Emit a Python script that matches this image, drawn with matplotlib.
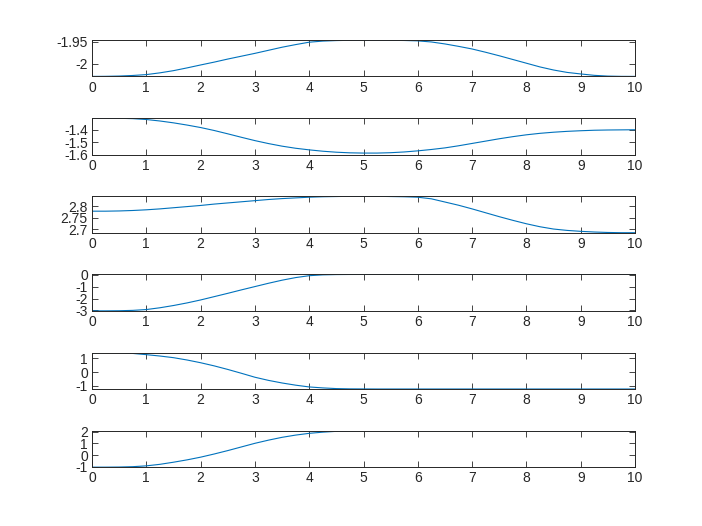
import matplotlib
matplotlib.use("Agg")
import matplotlib.pyplot as plt

plt.rcParams['font.family'] = ['Liberation Sans', 'DejaVu Sans']

t = [0, 0.25, 0.5, 0.75, 1, 1.25, 1.5, 1.75, 2, 2.25, 2.5, 2.75, 3, 3.25, 3.5, 3.75,
     4, 4.25, 4.5, 4.75, 5, 5.25, 5.5, 5.75, 6, 6.25, 6.5, 6.75, 7, 7.25, 7.5, 7.75,
     8, 8.25, 8.5, 8.75, 9, 9.25, 9.5, 9.75, 10]

q1 = [-2.0286, -2.0284, -2.0278, -2.0265, -2.0245, -2.0205, -2.0155, -2.0092, -2.0025, -1.9960,
      -1.9890, -1.9825, -1.9760, -1.9690, -1.9620, -1.9560, -1.9505, -1.9480, -1.9468, -1.9462,
      -1.9460, -1.9460, -1.9462, -1.9466, -1.9475, -1.9500, -1.9545, -1.9600, -1.9660, -1.9735,
      -1.9815, -1.9900, -1.9985, -2.0070, -2.0140, -2.0195, -2.0230, -2.0262, -2.0279, -2.0285,
      -2.0286]
q2 = [-1.305, -1.305, -1.306, -1.309, -1.316, -1.328, -1.343, -1.361, -1.381, -1.405,
      -1.432, -1.460, -1.487, -1.511, -1.532, -1.549, -1.562, -1.573, -1.581, -1.586,
      -1.588, -1.588, -1.585, -1.579, -1.570, -1.559, -1.546, -1.529, -1.510, -1.491,
      -1.472, -1.455, -1.440, -1.428, -1.419, -1.412, -1.407, -1.403, -1.401, -1.400,
      -1.399]
q3 = [2.778, 2.778, 2.779, 2.781, 2.784, 2.788, 2.793, 2.798, 2.803, 2.809,
      2.814, 2.819, 2.824, 2.829, 2.833, 2.836, 2.839, 2.841, 2.842, 2.843,
      2.843, 2.843, 2.842, 2.841, 2.839, 2.832, 2.818, 2.804, 2.788, 2.771,
      2.754, 2.738, 2.723, 2.710, 2.700, 2.694, 2.690, 2.687, 2.685, 2.684,
      2.684]
q4 = [-3.04, -3.04, -3.03, -3.00, -2.93, -2.78, -2.59, -2.37, -2.12, -1.84,
      -1.56, -1.27, -0.99, -0.71, -0.45, -0.23, -0.07, 0.0, 0.025, 0.033,
      0.035, 0.035, 0.035, 0.035, 0.035, 0.035, 0.035, 0.035, 0.035, 0.035,
      0.035, 0.035, 0.035, 0.035, 0.035, 0.035, 0.035, 0.035, 0.035, 0.035,
      0.035]
q5 = [1.42, 1.42, 1.41, 1.36, 1.27, 1.17, 1.05, 0.88, 0.68, 0.45,
      0.19, -0.09, -0.38, -0.61, -0.80, -0.96, -1.09, -1.16, -1.21, -1.23,
      -1.235, -1.24, -1.24, -1.24, -1.24, -1.24, -1.24, -1.24, -1.24, -1.24,
      -1.24, -1.24, -1.24, -1.24, -1.24, -1.24, -1.24, -1.24, -1.24, -1.24,
      -1.24]
q6 = [-1.02, -1.02, -1.01, -0.98, -0.91, -0.78, -0.60, -0.40, -0.17, 0.10,
      0.39, 0.70, 1.01, 1.28, 1.52, 1.71, 1.86, 1.96, 2.03, 2.06,
      2.075, 2.08, 2.08, 2.08, 2.08, 2.08, 2.08, 2.08, 2.08, 2.08,
      2.08, 2.08, 2.08, 2.08, 2.08, 2.08, 2.08, 2.08, 2.08, 2.08,
      2.08]

series = [q1, q2, q3, q4, q5, q6]
ylims = [(-2.0286, -1.9455), (-1.6, -1.305), (2.684, 2.843),
         (-3.04, 0.035), (-1.24, 1.42), (-1.02, 2.08)]
yticks = [[-2, -1.95], [-1.6, -1.5, -1.4], [2.7, 2.75, 2.8],
          [-3, -2, -1, 0], [-1, 0, 1], [-1, 0, 1, 2]]
ytlabels = [['-2', '-1.95'], ['-1.6', '-1.5', '-1.4'], ['2.7', '2.75', '2.8'],
            ['-3', '-2', '-1', '0'], ['-1', '0', '1'], ['-1', '0', '1', '2']]

W, H = 702, 526
fig = plt.figure(figsize=(W / 100, H / 100), dpi=100)
ec = '#262626'

for i, q in enumerate(series):
    top = 40 + i * 78.15
    h = 36.4
    ax = fig.add_axes([92 / W, 1 - (top + h) / H, 543 / W, h / H])
    ax.plot(t, q, color='#0072BD', lw=0.8)
    ax.set_xlim(0, 10)
    ax.set_ylim(*ylims[i])
    ax.set_xticks(range(11))
    ax.set_yticks(yticks[i])
    ax.set_yticklabels(ytlabels[i])
    ax.tick_params(direction='in', length=4, width=0.6, colors=ec,
                   labelsize=10, top=True, right=True, pad=3)
    for s in ax.spines.values():
        s.set_color(ec)
        s.set_linewidth(0.7)

fig.savefig('out.png', dpi=100)
